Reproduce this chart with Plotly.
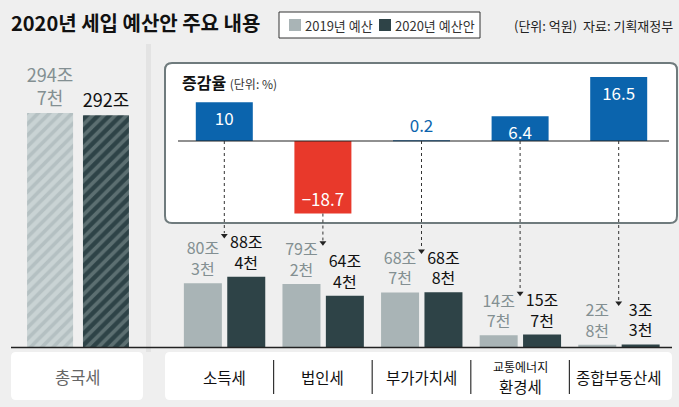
import plotly.graph_objects as go

W, H = 679, 407

# ---------------- data ----------------
series_names = ["2019년 예산", "2020년 예산안"]
total_category = ["총국세"]
total_2019 = [294.7]
total_2020 = [292.0]

categories = ["소득세", "법인세", "부가가치세", "교통에너지환경세", "종합부동산세"]
budget_2019 = [80.3, 79.2, 68.7, 14.7, 2.8]
budget_2020 = [88.4, 64.4, 68.8, 15.7, 3.3]
change_rate = [10, -18.7, 0.2, 6.4, 16.5]

title_text = "2020년 세입 예산안 주요 내용"
unit_text = "(단위: 억원)  자료: 기획재정부"
inset_title = "증감율"
inset_unit = "(단위: %)"

# ---------------- styles ----------------
FONT = "Noto Sans CJK KR, Noto Sans, sans-serif"
C19 = "#a9b4b6"
C20 = "#2e4347"
C19_TXT = "#838f92"
C20_TXT = "#111111"
BLUE = "#0b64ad"
RED = "#e8392b"
BG = "#efefef"


def px_x(x):
    return x / W


def px_y(y):
    return 1 - y / H


def jo(v):
    t = int(v)
    c = int(round((v - t) * 10))
    return f"{t}조" + (f"<br>{c}천" if c else "")


# main y scale (pixels)
BASE = 347
SCALE = 0.794
YMAX = 360
y_dom = [px_y(BASE), px_y(BASE - YMAX * SCALE)]
# inset y scale
ZERO = 141
RSCALE = 3.88
R_RANGE = [-20, 18]
y3_dom = [px_y(ZERO - R_RANGE[0] * RSCALE), px_y(ZERO - R_RANGE[1] * RSCALE)]

XL = [11, 145]
XR = [175, 668]
CATW = (XR[1] - XR[0]) / len(categories)

fig = go.Figure()

# left total bars (hatched)
fig.add_trace(go.Bar(
    x=total_category, y=total_2019, xaxis="x", yaxis="y", name=series_names[0],
    width=46 / (XL[1] - XL[0]), offset=-0.38, showlegend=False,
    marker=dict(color="#c9d3d4", line=dict(width=0),
                pattern=dict(shape="/", bgcolor="#c9d3d4", fgcolor="#a0adaf", size=8, solidity=0.45)),
    text=[jo(v) for v in total_2019], textposition="outside", cliponaxis=False,
    constraintext="none", textangle=0, textfont=dict(size=18, color=C19_TXT, family=FONT),
))
fig.add_trace(go.Bar(
    x=total_category, y=total_2020, xaxis="x", yaxis="y", name=series_names[1],
    width=46 / (XL[1] - XL[0]), offset=0.037, showlegend=False,
    marker=dict(color=C20, line=dict(width=0),
                pattern=dict(shape="/", bgcolor=C20, fgcolor="#8a9b9c", size=8, solidity=0.45)),
    text=[jo(v) for v in total_2020], textposition="outside", cliponaxis=False,
    constraintext="none", textangle=0, textfont=dict(size=18, color=C20_TXT, family=FONT),
))

# right category bars
fig.add_trace(go.Bar(
    x=categories, y=budget_2019, xaxis="x2", yaxis="y", name=series_names[0],
    width=38 / CATW, offset=-0.41, showlegend=False,
    marker=dict(color=C19, line=dict(width=0)),
    text=[jo(v) for v in budget_2019], textposition="outside", cliponaxis=False,
    constraintext="none", textangle=0, textfont=dict(size=16, color=C19_TXT, family=FONT),
))
fig.add_trace(go.Bar(
    x=categories, y=budget_2020, xaxis="x2", yaxis="y", name=series_names[1],
    width=38 / CATW, offset=0.03, showlegend=False,
    marker=dict(color=C20, line=dict(width=0)),
    text=[jo(v) for v in budget_2020], textposition="outside", cliponaxis=False,
    constraintext="none", textangle=0, textfont=dict(size=16, color=C20_TXT, family=FONT),
))

# inset change-rate bars
rate_txt = [f"{v:g}".replace("-", "−") for v in change_rate]
rate_pos = ["outside" if abs(v) < 2 else "inside" for v in change_rate]
rate_txtcol = [BLUE if abs(v) < 2 else "white" for v in change_rate]
fig.add_trace(go.Bar(
    x=categories, y=change_rate, xaxis="x3", yaxis="y3", name="증감율",
    width=57 / CATW, showlegend=False,
    marker=dict(color=[RED if v < 0 else BLUE for v in change_rate], line=dict(width=0)),
    text=rate_txt, textposition=rate_pos, insidetextanchor="end", cliponaxis=False,
    constraintext="none", textangle=0, textfont=dict(size=17, color=rate_txtcol, family=FONT),
))

shapes = []
annotations = []


def rounded(x0, y0, x1, y1, r, fill, line_color=None, line_width=0, layer="below"):
    X0, X1 = px_x(x0), px_x(x1)
    Y0, Y1 = px_y(y0), px_y(y1)
    rx, ry = r / W, r / H
    path = (f"M{X0 + rx},{Y0} L{X1 - rx},{Y0} Q{X1},{Y0} {X1},{Y0 - ry} "
            f"L{X1},{Y1 + ry} Q{X1},{Y1} {X1 - rx},{Y1} L{X0 + rx},{Y1} "
            f"Q{X0},{Y1} {X0},{Y1 + ry} L{X0},{Y0 - ry} Q{X0},{Y0} {X0 + rx},{Y0} Z")
    return dict(type="path", path=path, xref="paper", yref="paper", fillcolor=fill,
                line=dict(color=line_color or fill, width=line_width), layer=layer)


# subtle column separator shadow
shapes.append(dict(type="rect", xref="paper", yref="paper", x0=px_x(146), x1=px_x(151),
                   y0=px_y(352), y1=px_y(44), fillcolor="#e3e3e3", line=dict(width=0), layer="below"))
# inset box
shapes.append(rounded(165, 63, 677, 223, 7, "white", "#6f7b7d", 2))
# bottom label panels
shapes.append(rounded(11, 352, 143, 400, 5, "white"))
shapes.append(rounded(165, 352, 672, 400, 5, "white"))
# baseline
shapes.append(dict(type="line", xref="paper", yref="paper", x0=px_x(11), x1=px_x(672),
                   y0=px_y(BASE + 0.5), y1=px_y(BASE + 0.5), line=dict(color="#222", width=1.5)))
# inset zero line
shapes.append(dict(type="line", xref="paper", yref="y3", x0=px_x(178), x1=px_x(669),
                   y0=0, y1=0, line=dict(color="#222", width=1.2)))
# separators among category labels
for i in range(len(categories) - 1):
    shapes.append(dict(type="line", xref="x2", yref="paper", x0=i + 0.5, x1=i + 0.5,
                       y0=px_y(360), y1=px_y(394), line=dict(color="#333", width=1.2)))


# dotted arrows from inset bars to the 2020 values
def rate_to_main(r):
    py = ZERO - r * RSCALE
    return (BASE - py) / SCALE


tips = [max(a, b) + 52 for a, b in zip(budget_2019, budget_2020)]
for i, r in enumerate(change_rate):
    shapes.append(dict(type="line", xref="x2", yref="y", x0=i, x1=i,
                       y0=rate_to_main(min(r, 0)), y1=tips[i] + 3,
                       line=dict(color="#333", width=1, dash="dot"), layer="above"))
fig.add_trace(go.Scatter(
    x=categories, y=tips, xaxis="x2", yaxis="y", mode="markers", showlegend=False,
    hoverinfo="skip", cliponaxis=False,
    marker=dict(symbol="triangle-down", size=6, color="#222", line=dict(width=0)),
))

# category labels
for c in categories:
    if c == "교통에너지환경세":
        annotations.append(dict(xref="x2", yref="paper", x=c, y=px_y(366), text="교통에너지",
                                xanchor="center", yanchor="middle", showarrow=False,
                                font=dict(size=12, color="#111", family=FONT)))
        annotations.append(dict(xref="x2", yref="paper", x=c, y=px_y(386), text="환경세",
                                xanchor="center", yanchor="middle", showarrow=False,
                                font=dict(size=15.5, color="#111", family=FONT)))
    else:
        annotations.append(dict(xref="x2", yref="paper", x=c, y=px_y(377), text=c,
                                xanchor="center", yanchor="middle", showarrow=False,
                                font=dict(size=15.5, color="#111", family=FONT)))
annotations.append(dict(xref="paper", yref="paper", x=px_x(78), y=px_y(377), text=total_category[0],
                        xanchor="center", yanchor="middle", showarrow=False,
                        font=dict(size=16.5, color="#666", family=FONT)))

# title & source
annotations.append(dict(xref="paper", yref="paper", x=px_x(9), y=px_y(23), xanchor="left",
                        yanchor="middle", text=f"<b>{title_text}</b>", showarrow=False,
                        font=dict(size=20, color="#111", family=FONT)))
annotations.append(dict(xref="paper", yref="paper", x=px_x(675), y=px_y(26), xanchor="right",
                        yanchor="middle", text=unit_text, showarrow=False,
                        font=dict(size=13, color="#222", family=FONT)))
# inset title
annotations.append(dict(xref="paper", yref="paper", x=px_x(180), y=px_y(82), xanchor="left",
                        yanchor="middle",
                        text=f"<b>{inset_title}</b> <span style='font-size:12px;color:#333'>{inset_unit}</span>",
                        showarrow=False, font=dict(size=16, color="#111", family=FONT)))

# manual legend
shapes.append(dict(type="rect", xref="paper", yref="paper", x0=px_x(279), x1=px_x(480),
                   y0=px_y(12), y1=px_y(38), fillcolor="white", line=dict(color="#333", width=1)))
for sx, col, name in [(289, C19, series_names[0]), (379, C20, series_names[1])]:
    shapes.append(dict(type="rect", xref="paper", yref="paper", x0=px_x(sx), x1=px_x(sx + 12),
                       y0=px_y(19), y1=px_y(31), fillcolor=col, line=dict(width=0)))
    annotations.append(dict(xref="paper", yref="paper", x=px_x(sx + 14), y=px_y(25.5),
                            xanchor="left", yanchor="middle", text=name, showarrow=False,
                            font=dict(size=13, color="#333", family=FONT)))

ax_common = dict(visible=False, fixedrange=True)
fig.update_layout(
    width=W, height=H, margin=dict(l=0, r=0, t=0, b=0),
    paper_bgcolor=BG, plot_bgcolor="rgba(0,0,0,0)",
    barmode="overlay", showlegend=False,
    font=dict(family=FONT),
    xaxis=dict(domain=[px_x(XL[0]), px_x(XL[1])], anchor="y", type="category", **ax_common),
    xaxis2=dict(domain=[px_x(XR[0]), px_x(XR[1])], anchor="y", type="category", **ax_common),
    xaxis3=dict(domain=[px_x(XR[0]), px_x(XR[1])], anchor="y3", type="category", **ax_common),
    yaxis=dict(domain=y_dom, range=[0, YMAX], anchor="x", **ax_common),
    yaxis3=dict(domain=y3_dom, range=R_RANGE, anchor="x3", **ax_common),
    shapes=shapes, annotations=annotations,
)

fig.write_html("out.html")
